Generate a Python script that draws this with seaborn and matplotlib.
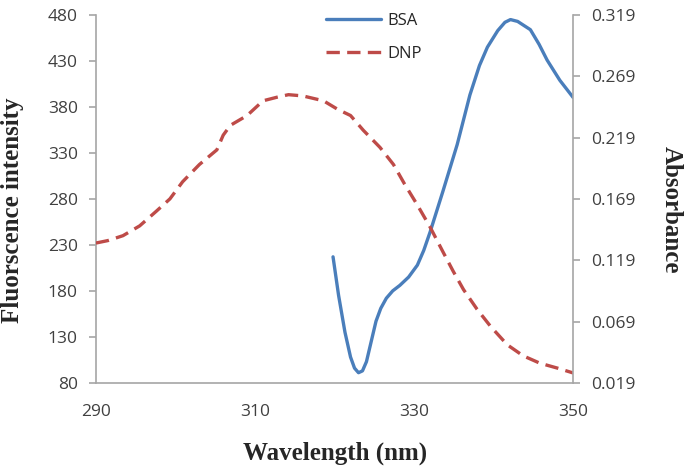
import numpy as np
import pandas as pd
import matplotlib
matplotlib.use("Agg")
import matplotlib.pyplot as plt
import seaborn as sns

# BSA fluorescence (left axis)
bsa_wl = [319.8, 320.5, 321.3, 322.0, 322.5, 323.0, 323.5, 324.0, 324.6, 325.2, 325.8,
          326.5, 327.3, 328.2, 329.3, 330.4, 331.2, 332.0, 333.6, 335.4, 337.0, 338.2,
          339.2, 340.5, 341.4, 342.1, 343.0, 344.6, 345.7, 346.7, 348.3, 350.0]
bsa_int = [217, 175, 135, 108, 96, 91, 93, 103, 125, 147, 161,
           172, 180, 186, 195, 208, 224, 244, 288, 339, 393, 425,
           445, 463, 472, 475, 473, 464, 448, 431, 409, 390]

# DNP absorbance (right axis)
dnp_wl = [290.0, 291.5, 293.4, 295.5, 297.6, 299.3, 300.9, 303.0, 305.2, 306.0, 306.9,
          309.0, 311.0, 312.8, 314.2, 316.0, 318.6, 320.4, 322.0, 323.6, 325.7, 327.4,
          328.8, 330.4, 332.0, 333.6, 334.9, 336.2, 337.9, 339.6, 341.7, 343.7, 345.8,
          348.0, 350.0]
dnp_abs = [0.133, 0.135, 0.139, 0.147, 0.159, 0.169, 0.183, 0.197, 0.209, 0.221, 0.229,
           0.237, 0.249, 0.252, 0.254, 0.253, 0.249, 0.242, 0.237, 0.225, 0.211, 0.197,
           0.181, 0.164, 0.146, 0.126, 0.110, 0.095, 0.079, 0.065, 0.050, 0.041, 0.035,
           0.031, 0.027]

left_ticks = [80, 130, 180, 230, 280, 330, 380, 430, 480]
right_ticks = [0.019, 0.069, 0.119, 0.169, 0.219, 0.269, 0.319]
x_ticks = [290, 310, 330, 350]

sns.set_style("white")
plt.rcParams["font.family"] = ["Open Sans", "DejaVu Sans"]

blue = "#4a7ebb"
red = "#be4b48"
grey = "#a6a6a6"

fig = plt.figure(figsize=(6.85, 4.68), dpi=100)
ax = fig.add_axes([0.140, 0.182, 0.697, 0.786])
ax2 = ax.twinx()

sns.lineplot(x=bsa_wl, y=bsa_int, ax=ax, color=blue, linewidth=2.4, sort=False,
             label="BSA", legend=False)
sns.lineplot(x=dnp_wl, y=dnp_abs, ax=ax2, color=red, linewidth=2.4, sort=False,
             label="DNP", legend=False, dashes=False)
ax2.lines[0].set_dashes([4, 2.2])
for ln in ax.lines + ax2.lines:
    ln.set_solid_joinstyle("round")
    ln.set_dash_joinstyle("round")

ax.set_xlim(290, 350)
ax.set_ylim(80, 480)
ax2.set_ylim(0.019, 0.319)
ax.set_xticks(x_ticks)
ax.set_yticks(left_ticks)
ax2.set_yticks(right_ticks)
ax2.set_yticklabels([f"{t:.3f}" for t in right_ticks])

for a in (ax, ax2):
    for s in a.spines.values():
        s.set_color(grey)
        s.set_linewidth(1.2)
    a.spines["top"].set_visible(False)
    a.tick_params(colors=grey, labelcolor="#404040", labelsize=12.5, length=5, width=1.2,
                  direction="out")
ax.spines["right"].set_visible(False)
ax2.spines["left"].set_visible(False)
ax2.spines["bottom"].set_visible(False)
ax.tick_params(axis="x", pad=10)
ax.tick_params(axis="y", pad=8)
ax2.tick_params(axis="y", pad=8)

lab_font = dict(family="Liberation Serif", fontweight="bold", fontsize=18)
ax.set_xlabel("Wavelength (nm)", labelpad=16, **lab_font)
ax.set_ylabel("Fluorscence intensity", **lab_font)
ax2.set_ylabel("Absorbance", rotation=270, **lab_font)
ax.yaxis.label.set_va("center")
ax2.yaxis.label.set_va("center")
ax.yaxis.set_label_coords(-0.174, 0.47)
ax2.yaxis.set_label_coords(1.206, 0.47)

handles = [ax.lines[0], ax2.lines[0]]
ax.legend(handles, ["BSA", "DNP"], loc="upper left", bbox_to_anchor=(0.45, 1.046),
          frameon=False, fontsize=12, handlelength=3.3, labelspacing=1.0,
          handletextpad=0.4)

fig.savefig("out.png", dpi=100)
